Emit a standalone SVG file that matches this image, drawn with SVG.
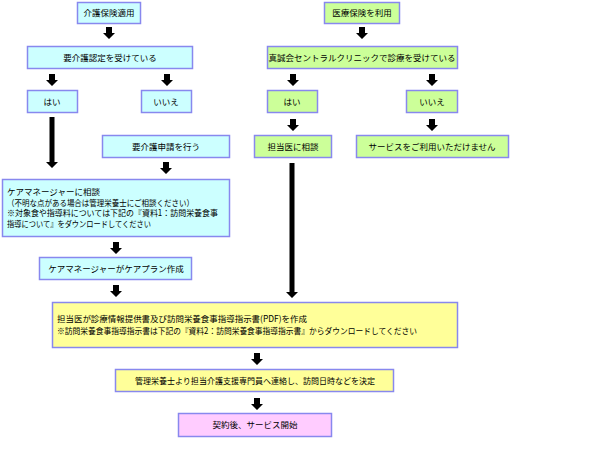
<svg xmlns="http://www.w3.org/2000/svg" xmlns:xlink="http://www.w3.org/1999/xlink" width="600" height="449" viewBox="0 0 600 449">
<style>
.b{stroke:#8888EE;stroke-width:1.5}
.c{fill:#CCFFFF}
.g{fill:#CCFF99}
.y{fill:#FFFF99}
.p{fill:#FFCCFF}
text{font-family:"Noto Sans CJK JP","Noto Sans",sans-serif;font-size:8.5px;fill:#000}
.m{text-anchor:middle}
.a{fill:#000}
</style>
<defs>
<path id="arr" d="M-3,0 h6 v6 h3 l-6,6 l-6,-6 h3 z"/>
</defs>
<rect width="600" height="449" fill="#fff"/>
<g id="n1"><rect class="b c" x="77.5" y="2.5" width="63" height="21"/><text class="m" x="109" y="16">介護保険適用</text></g>
<g id="n2"><rect class="b g" x="324.5" y="2.5" width="75" height="21"/><text class="m" x="362" y="16">医療保険を利用</text></g>
<g id="n3"><rect class="b c" x="27.5" y="46.5" width="165" height="22"/><text class="m" x="110" y="60.5">要介護認定を受けている</text></g>
<g id="n4"><rect class="b g" x="267.5" y="46.5" width="190" height="22"/><text class="m" x="362" y="60.5">真誠会セントラルクリニックで診療を受けている</text></g>
<g id="n5"><rect class="b c" x="27.5" y="90.5" width="50" height="22"/><text class="m" x="52" y="104.5">はい</text></g>
<g id="n6"><rect class="b c" x="141.5" y="90.5" width="50" height="22"/><text class="m" x="166" y="104.5">いいえ</text></g>
<g id="n7"><rect class="b g" x="267.5" y="90.5" width="50" height="22"/><text class="m" x="292" y="104.5">はい</text></g>
<g id="n8"><rect class="b g" x="406.5" y="90.5" width="51" height="22"/><text class="m" x="432" y="104.5">いいえ</text></g>
<g id="n9"><rect class="b c" x="102.5" y="135.5" width="127" height="22"/><text class="m" x="166" y="149.5">要介護申請を行う</text></g>
<g id="n10"><rect class="b g" x="254.5" y="135.5" width="77" height="22"/><text class="m" x="293" y="149.5">担当医に相談</text></g>
<g id="n11"><rect class="b g" x="356.5" y="135.5" width="152" height="22"/><text class="m" x="432" y="149.5">サービスをご利用いただけません</text></g>
<g id="n12"><rect class="b c" x="2.5" y="179.5" width="227" height="57"/>
<text x="7" y="195">ケアマネージャーに相談</text>
<text x="7" y="205.5" textLength="187" lengthAdjust="spacingAndGlyphs">（不明な点がある場合は管理栄養士にご相談ください）</text>
<text x="7" y="216" textLength="211" lengthAdjust="spacingAndGlyphs">※対象食や指導料については下記の『資料1：訪問栄養食事</text>
<text x="7" y="226.5" textLength="144" lengthAdjust="spacingAndGlyphs">指導について』をダウンロードしてください</text></g>
<g id="n13"><rect class="b c" x="39.5" y="257.5" width="152" height="22"/><text class="m" x="116" y="271.5">ケアマネージャーがケアプラン作成</text></g>
<g id="n14"><rect class="b y" x="52.5" y="302.5" width="405" height="45"/>
<text x="57" y="322" textLength="250" lengthAdjust="spacingAndGlyphs">担当医が診療情報提供書及び訪問栄養食事指導指示書(PDF)を作成</text>
<text x="57" y="334" textLength="360" lengthAdjust="spacingAndGlyphs">※訪問栄養食事指導指示書は下記の『資料2：訪問栄養食事指導指示書』からダウンロードしてください</text></g>
<g id="n15"><rect class="b y" x="115.5" y="369.5" width="278" height="22"/><text class="m" x="255" y="383.5" textLength="240" lengthAdjust="spacingAndGlyphs">管理栄養士より担当介護支援専門員へ連絡し、訪問日時などを決定</text></g>
<g id="n16"><rect class="b p" x="178.5" y="413.5" width="153" height="23"/><text class="m" x="255" y="428">契約後、サービス開始</text></g>
<g id="connectors" class="a">
<use xlink:href="#arr" x="109" y="27"/>
<use xlink:href="#arr" x="362" y="27"/>
<use xlink:href="#arr" x="52" y="74"/>
<use xlink:href="#arr" x="167" y="74"/>
<use xlink:href="#arr" x="293" y="74"/>
<use xlink:href="#arr" x="432" y="74"/>
<path d="M49.5,117 h5 v45 h3.5 l-6,6 l-6,-6 h3.5 z"/>
<use xlink:href="#arr" x="166" y="162"/>
<use xlink:href="#arr" x="293" y="119"/>
<use xlink:href="#arr" x="432" y="119"/>
<path d="M289.5,163 h5 v129 h3.5 l-6,6 l-6,-6 h3.5 z"/>
<use xlink:href="#arr" x="116" y="242"/>
<use xlink:href="#arr" x="116" y="285"/>
<use xlink:href="#arr" x="257" y="353"/>
<use xlink:href="#arr" x="257" y="398"/>
</g>
</svg>
